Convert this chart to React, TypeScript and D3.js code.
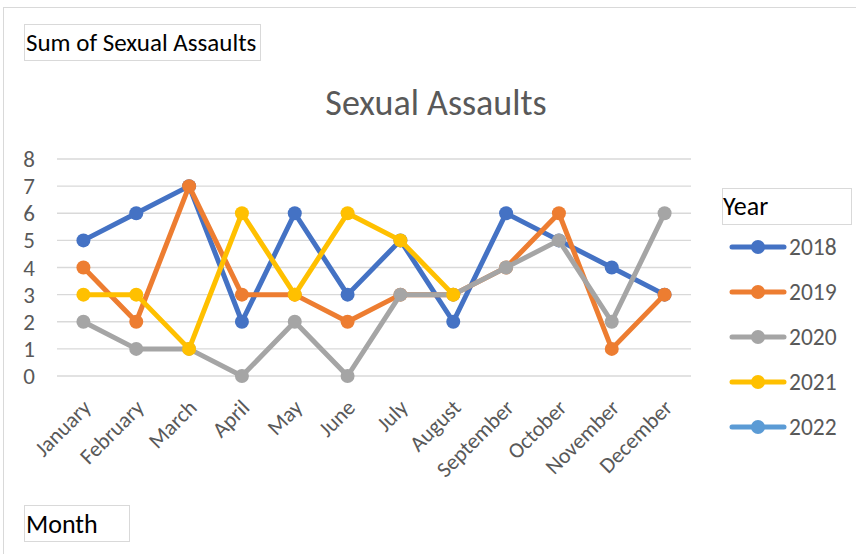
import React from "react";
import * as d3 from "d3";

const months = ["January","February","March","April","May","June","July","August","September","October","November","December"];
const years = ["2018","2019","2020","2021","2022"];
const s2018 = [5,6,7,2,6,3,5,2,6,5,4,3];
const s2019 = [4,2,7,3,3,2,3,3,4,6,1,3];
const s2020 = [2,1,1,0,2,0,3,3,4,5,2,6];
const s2021: (number|null)[] = [3,3,1,6,3,6,5,3,null,null,null,null];
const s2022: (number|null)[] = [null,null,null,null,null,null,null,null,null,null,null,null];
const colors = ["#4472C4","#ED7D31","#A5A5A5","#FFC000","#5B9BD5"];
const yTicks = [0,1,2,3,4,5,6,7,8];

const W = 856, H = 554;
const FONT = "Calibri, Carlito, Lato, sans-serif";

export default function App() {
  const series = [s2018, s2019, s2020, s2021, s2022];
  const x = d3.scaleBand<string>().domain(months).range([57, 691]);
  const y = d3.scaleLinear().domain([0, 8]).range([376, 159]);
  const cx = (m: string) => (x(m) as number) + x.bandwidth() / 2;
  const line = d3.line<number|null>()
    .defined(d => d != null)
    .x((_, i) => cx(months[i]))
    .y(d => y(d as number));

  return (
    <svg width={W} height={H} style={{ position: "absolute", left: 0, top: 0, background: "#fff" }} fontFamily={FONT}>
      <rect x={0} y={0} width={W} height={H} fill="#fff" />
      <rect x={3.5} y={7.5} width={W - 3} height={H - 7} fill="none" stroke="#d9d9d9" />
      {/* Field button */}
      <rect x={24.5} y={24.5} width={236} height={36} fill="#fff" stroke="#d9d9d9" />
      <text x={26} y={51} fontSize={25} fill="#000">Sum of Sexual Assaults</text>
      {/* Title */}
      <text x={436} y={115} textAnchor="middle" fontSize={36} fill="#595959">Sexual Assaults</text>
      {/* gridlines */}
      {yTicks.map(t => (
        <line key={t} x1={57} x2={691} y1={y(t)} y2={y(t)} stroke="#d9d9d9" strokeWidth={1.3} />
      ))}
      {yTicks.map(t => (
        <text key={"l" + t} x={35} y={y(t)} dy="0.35em" textAnchor="end" fontSize={23} fill="#595959">{t}</text>
      ))}
      {months.map(m => (
        <text key={m} transform={`translate(${cx(m) + 9},${409}) rotate(-45)`} textAnchor="end" fontSize={22} fill="#595959">{m}</text>
      ))}
      {/* series */}
      {series.map((s, si) => (
        <g key={si}>
          <path d={line(s) || ""} fill="none" stroke={colors[si]} strokeWidth={5} strokeLinejoin="round" strokeLinecap="round" />
          {s.map((v, i) => v == null ? null : (
            <circle key={i} cx={cx(months[i])} cy={y(v)} r={7} fill={colors[si]} />
          ))}
        </g>
      ))}
      {/* legend */}
      <rect x={722.5} y={188.5} width={129} height={36} fill="#fff" stroke="#d9d9d9" />
      <text x={723} y={215} fontSize={26} fill="#000">Year</text>
      {years.map((yr, i) => {
        const ly = 247 + i * 45;
        return (
          <g key={yr}>
            <line x1={732} x2={784} y1={ly} y2={ly} stroke={colors[i]} strokeWidth={5} strokeLinecap="round" />
            <circle cx={758} cy={ly} r={7} fill={colors[i]} />
            <text x={789} y={ly} dy="0.35em" fontSize={23.5} fill="#595959">{yr}</text>
          </g>
        );
      })}
      {/* Month button */}
      <rect x={24.5} y={505.5} width={105} height={36} fill="#fff" stroke="#d9d9d9" />
      <text x={26} y={533} fontSize={26} fill="#000">Month</text>
    </svg>
  );
}
